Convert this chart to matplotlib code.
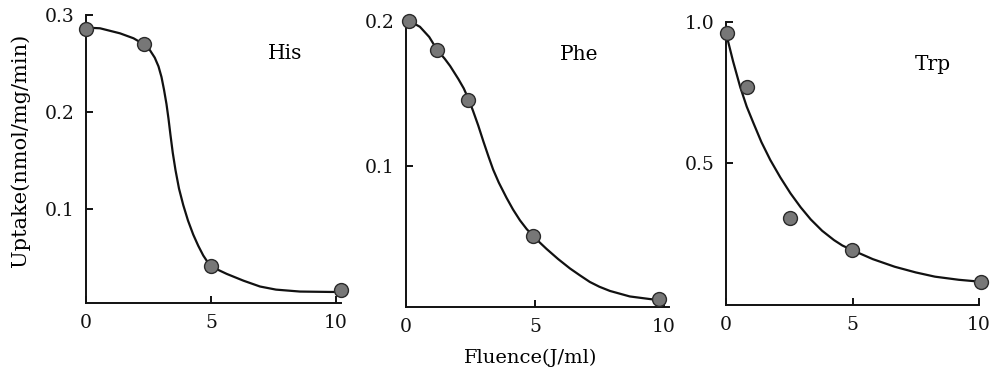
import numpy as np
import matplotlib.pyplot as plt

# Datos medidos (fluence J/ml, uptake nmol/mg/min)
his_x = [0.0, 2.3, 5.0, 10.2]
his_y = [0.286, 0.270, 0.041, 0.0165]
phe_x = [0.13, 1.21, 2.41, 4.93, 9.8]
phe_y = [0.200, 0.180, 0.1455, 0.0517, 0.008]
trp_x = [0.03, 0.82, 2.52, 4.98, 10.08]
trp_y = [0.959, 0.768, 0.306, 0.194, 0.082]

# Curvas ajustadas
his_cx = [0.0, 0.56, 1.36, 1.9, 2.3, 2.55, 2.75, 2.9, 3.02, 3.12, 3.22, 3.3, 3.38, 3.47,
          3.58, 3.72, 3.89, 4.08, 4.29, 4.49, 4.69, 4.96, 5.3, 5.63, 6.3, 6.96, 7.6, 8.56,
          9.76, 10.2]
his_cy = [0.287, 0.2863, 0.2811, 0.276, 0.270, 0.264, 0.256, 0.247, 0.236, 0.223, 0.208,
          0.193, 0.176, 0.158, 0.140, 0.121, 0.104, 0.088, 0.0735, 0.062, 0.052, 0.0415,
          0.037, 0.0330, 0.026, 0.020, 0.0168, 0.0148, 0.0144, 0.0144]
phe_cx = [0.13, 0.54, 0.9, 1.21, 1.5, 1.71, 2.03, 2.24, 2.44, 2.6, 2.8, 3.0, 3.2, 3.38,
          3.6, 3.90, 4.15, 4.42, 4.68, 4.93, 5.2, 5.45, 5.9, 6.36, 6.75, 7.13, 7.5, 7.91,
          8.68, 9.46, 9.78]
phe_cy = [0.200, 0.196, 0.189, 0.180, 0.174, 0.169, 0.160, 0.1535, 0.1455, 0.138, 0.128,
          0.117, 0.1065, 0.0975, 0.0885, 0.078, 0.070, 0.0625, 0.0565, 0.0517, 0.047, 0.0428,
          0.0358, 0.0293, 0.0245, 0.020, 0.0167, 0.0138, 0.010, 0.0082, 0.0076]
trp_cx = [0.0, 0.28, 0.56, 0.82, 1.09, 1.4, 1.75, 2.15, 2.55, 2.95, 3.35, 3.8, 4.27, 4.6,
          4.98, 5.8, 6.67, 7.5, 8.26, 9.2, 10.08]
trp_cy = [0.96, 0.86, 0.77, 0.70, 0.641, 0.575, 0.512, 0.45, 0.394, 0.345, 0.302, 0.262,
          0.229, 0.210, 0.194, 0.162, 0.135, 0.115, 0.100, 0.089, 0.082]

paneles = [
    ("His", his_x, his_y, his_cx, his_cy, (0.003, 0.3), [0.1, 0.2, 0.3], ["0.1", "0.2", "0.3"], 10.2),
    ("Phe", phe_x, phe_y, phe_cx, phe_cy, (0.003, 0.2), [0.1, 0.2], ["0.1", "0.2"], 10.2),
    ("Trp", trp_x, trp_y, trp_cx, trp_cy, (0, 1.0), [0.5, 1.0], ["0.5", "1.0"], 10.0),
]
posiciones = [
    [86 / 992, 66 / 369, 255 / 992, 288 / 369],
    [406 / 992, 62.4 / 369, 263 / 992, 285.6 / 369],
    [726 / 992, 64 / 369, 253 / 992, 283.3 / 369],
]
etiquetas = [(0.78, 0.868), (0.66, 0.884), (0.816, 0.849)]

plt.rcParams['font.family'] = ['DejaVu Serif']

fig = plt.figure(figsize=(9.92, 3.69), dpi=100)
for (nombre, px, py, cx, cy, ylim, yt, ytl, xmax), pos, lab in zip(paneles, posiciones, etiquetas):
    ax = fig.add_axes(pos)
    ax.plot(cx, cy, color="#111111", lw=1.6, zorder=2, clip_on=False,
            solid_joinstyle="round", solid_capstyle="round")
    ax.plot(px, py, "o", ms=10, mfc="#777777", mec="#2a2a2a", mew=1.0, zorder=3, clip_on=False)
    ax.set_xlim(0, xmax)
    ax.set_ylim(*ylim)
    ax.set_xticks([0, 5, 10])
    ax.set_xticklabels(["0", "5", "10"])
    ax.set_yticks(yt)
    ax.set_yticklabels(ytl)
    for s in ["top", "right"]:
        ax.spines[s].set_visible(False)
    for s in ["left", "bottom"]:
        ax.spines[s].set_linewidth(1.4)
        ax.spines[s].set_color("#111111")
    ax.tick_params(direction="in", length=5, width=1.4, labelsize=13.5, pad=8, colors="#111111")
    ax.text(lab[0], lab[1], nombre, transform=ax.transAxes, fontsize=14.5, ha="center", va="center")

fig.text(20 / 992, 1 - 150 / 369, "Uptake(nmol/mg/min)", rotation=90, fontsize=15,
         ha="center", va="center")
fig.text(531 / 992, 1 - 358 / 369, "Fluence(J/ml)", fontsize=14, ha="center", va="center")

fig.savefig("out.png", dpi=100)
